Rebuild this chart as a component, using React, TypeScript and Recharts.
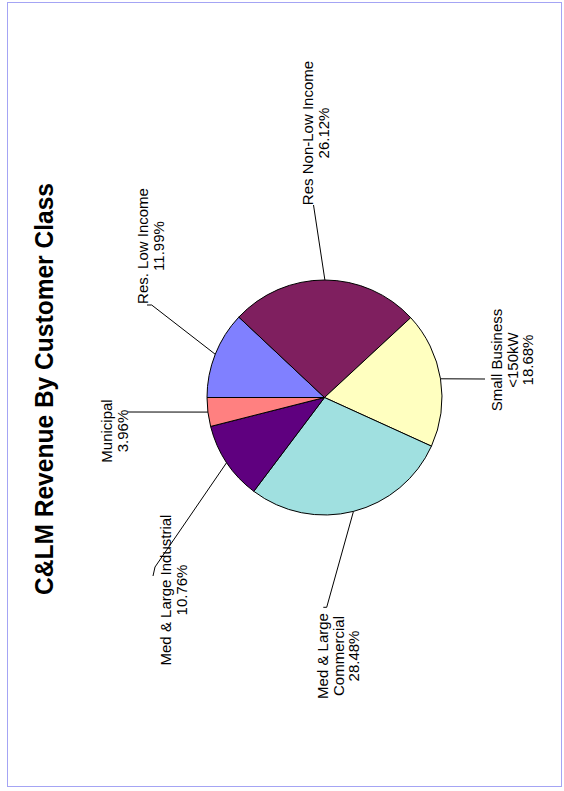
import { Cell, Pie, PieChart } from "recharts";

// customer classes, in the order the slices run (clockwise from 9 o'clock)
const categories = [
    "Res. Low Income",
    "Res Non-Low Income",
    "Small Business <150kW",
    "Med & Large Commercial",
    "Med & Large Industrial",
    "Municipal",
];

// share of C&LM revenue, percent
const shares = [11.99, 26.12, 18.68, 28.48, 10.76, 3.96];

// how each category name is broken over lines in its label
const labelLines = [
    ["Res. Low Income"],
    ["Res Non-Low Income"],
    ["Small Business", "<150kW"],
    ["Med & Large", "Commercial"],
    ["Med & Large Industrial"],
    ["Municipal"],
];

const sliceColors = ["#8080FF", "#7F1F5F", "#FFFFC0", "#A0E0E0", "#5F007F", "#FF8080"];

const data = categories.map((name, i) => ({ name, value: shares[i] }));

const RADIAN = Math.PI / 180;
const LINE_GAP = 15.5;
const FONT = "'Liberation Sans', Arial, sans-serif";

// label placement relative to the pie centre (page is turned on its side)
const LABEL_LAYOUT = [
    { dx: -176.5, dy: -151.5, leader: [[-172.8, -92.5], [-177.5, -92.5]] },
    { dx: -11.5, dy: -264.5, leader: [[-11, -192.5]] },
    { dx: 177.5, dy: -37.5, leader: [[160.5, -18.5]] },
    { dx: 3.5, dy: 258.5, leader: [[2.2, 209.8], [-1.2, 209.8]] },
    { dx: -153.5, dy: 192.5, leader: [[-169.5, 169.5], [-171.5, 178.5]] },
    { dx: -212.5, dy: 33.5, leader: [[-196.5, 14.5]] },
];

function renderLabel(props: any) {
    const { cx, cy, midAngle, outerRadius, index, value } = props;
    const layout = LABEL_LAYOUT[index];
    const sx = cx + outerRadius * Math.cos(-midAngle * RADIAN);
    const sy = cy + outerRadius * Math.sin(-midAngle * RADIAN);
    const points = [[sx, sy], ...layout.leader.map(([x, y]) => [cx + x, cy + y])]
        .map((p) => p.join(","))
        .join(" ");
    const lines = [...labelLines[index], `${Number(value).toFixed(2)}%`];
    const ty = cy + layout.dy;

    return (
        <g>
            <polyline points={points} fill="none" stroke="#000" strokeWidth={1} />
            {lines.map((line, j) => {
                const tx = cx + layout.dx + j * LINE_GAP;
                return (
                    <text
                        key={j}
                        x={tx}
                        y={ty}
                        transform={`rotate(-90, ${tx}, ${ty})`}
                        textAnchor="middle"
                        fontSize={15}
                        fontFamily={FONT}
                        fill="#000"
                    >
                        {line}
                    </text>
                );
            })}
        </g>
    );
}

export default function App() {
    return (
        <div
            style={{
                position: "absolute",
                left: 0,
                top: 0,
                width: 564,
                height: 791,
                background: "#fff",
            }}
        >
            <div
                style={{
                    position: "absolute",
                    left: 7,
                    top: 2,
                    width: 555,
                    height: 785,
                    border: "1.5px solid #A4A4F4",
                    boxSizing: "border-box",
                }}
            />
            <svg
                width={564}
                height={791}
                style={{ position: "absolute", left: 0, top: 0 }}
            >
                <text
                    x={53}
                    y={389}
                    transform="rotate(-90, 53, 389)"
                    textAnchor="middle"
                    fontSize={26}
                    fontWeight="bold"
                    fontFamily={FONT}
                    textLength={412}
                    lengthAdjust="spacingAndGlyphs"
                    fill="#000"
                >
                    C&amp;LM Revenue By Customer Class
                </text>
            </svg>
            <div style={{ position: "absolute", left: 0, top: 0 }}>
                <PieChart
                    width={564}
                    height={791}
                    margin={{ top: 0, right: 0, bottom: 0, left: 0 }}
                >
                    <Pie
                        data={data}
                        dataKey="value"
                        nameKey="name"
                        cx={324.5}
                        cy={397.5}
                        outerRadius={117.5}
                        startAngle={180}
                        endAngle={-180}
                        stroke="#000"
                        strokeWidth={1}
                        label={renderLabel}
                        labelLine={false}
                        isAnimationActive={false}
                    >
                        {data.map((entry, i) => (
                            <Cell key={entry.name} fill={sliceColors[i]} />
                        ))}
                    </Pie>
                </PieChart>
            </div>
        </div>
    );
}
